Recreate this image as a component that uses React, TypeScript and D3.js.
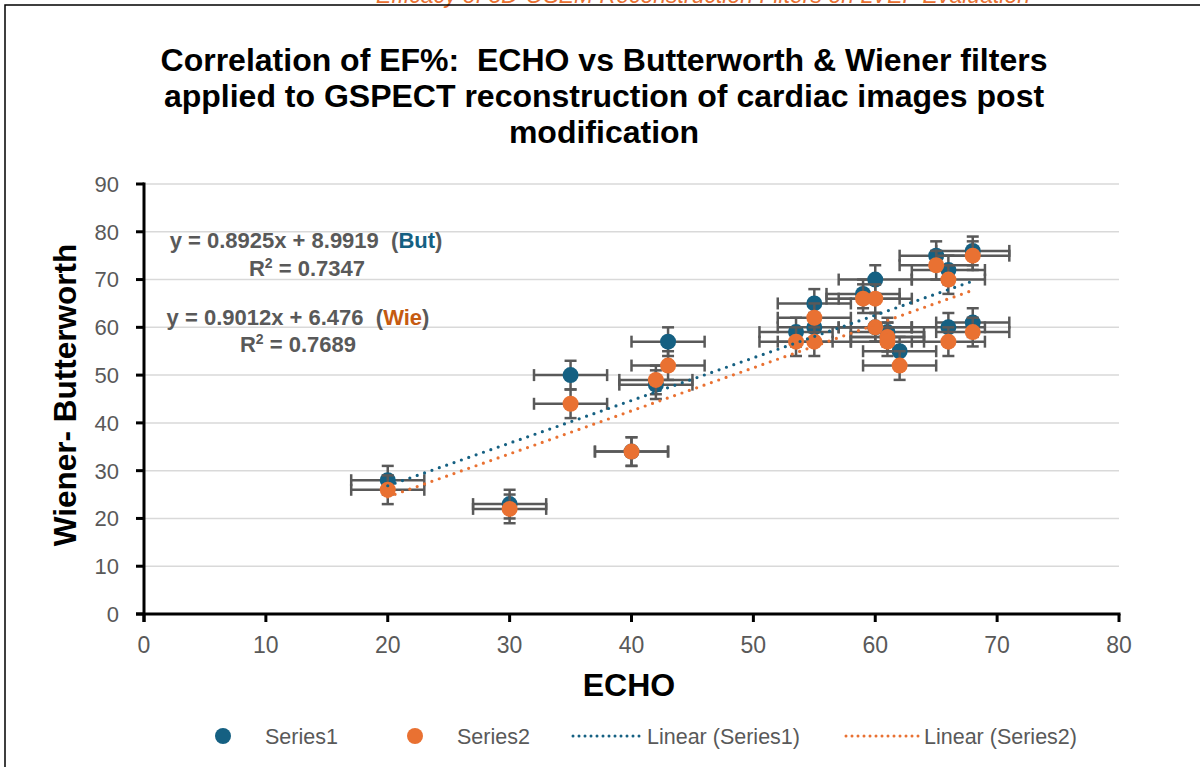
import React from "react";
import { scaleLinear, range } from "d3";

// ECHO values and the two filter results (Butterworth = Series1, Wiener = Series2)
const echo = [20, 30, 35, 40, 42, 43, 53.5, 55, 55, 59, 60, 60, 61, 61, 62, 65, 66, 66, 68, 68];
const series1 = [28, 23, 50, 34, 48, 57, 59, 65, 60, 67, 70, 60, 59, 58, 55, 75, 72, 60, 76, 61];
const series2 = [26, 22, 44, 34, 49, 52, 57, 62, 57, 66, 66, 60, 58, 57, 52, 73, 70, 57, 75, 59];
const errX = 3;
const errY = 3;

const seriesNames = ["Series1", "Series2"];
const trendNames = ["Linear (Series1)", "Linear (Series2)"];
const slopes = [0.8925, 0.9012];
const intercepts = [8.9919, 6.476];
const r2 = ["0.7347", "0.7689"];
const tags = ["But", "Wie"];

const xTicks = range(0, 81, 10);
const yTicks = range(0, 91, 10);

const titleLines = [
  "Correlation of EF%:\u00a0 ECHO vs Butterworth & Wiener filters",
  "applied to GSPECT reconstruction of cardiac images post",
  "modification",
];

const colors = ["#156082", "#E97132"];
const tagColors = ["#156082", "#C55A11"];
const gray = "#595959";
const font = "'Liberation Sans', Arial, sans-serif";

export default function App() {
  const width = 1200;
  const height = 767;
  const margin = { left: 144, right: 81, top: 184, bottom: 153 };

  const xScale = scaleLinear().domain([0, 80]).range([margin.left, width - margin.right]);
  const yScale = scaleLinear().domain([0, 90]).range([height - margin.bottom, margin.top]);
  const x0 = xScale(0);
  const y0 = yScale(0);

  const data = [series1, series2];
  const xMin = Math.min(...echo);
  const xMax = Math.max(...echo);

  return (
    <svg
      width={width}
      height={height}
      style={{ position: "absolute", left: 0, top: 0, fontFamily: font }}
    >
      <rect width={width} height={height} fill="white" />
      {/* page header, cut off at the top in the original too */}
      <text x={703} y={3} textAnchor="middle" fontSize={23} fontStyle="italic" fill="#E97132">
        Efficacy of 3D-OSEM Reconstruction Filters on LVEF Evaluation
      </text>
      {/* chart frame */}
      <rect x={5} y={5} width={1300} height={900} fill="none" stroke="#000" strokeWidth={1.5} />

      {titleLines.map((t, i) => (
        <text
          key={t}
          x={604}
          y={71 + i * 36}
          textAnchor="middle"
          fontSize={32}
          fontWeight="bold"
          fill="#000"
        >
          {t}
        </text>
      ))}

      {/* grid */}
      {yTicks.slice(1).map((d) => (
        <line
          key={d}
          x1={x0}
          x2={xScale(80)}
          y1={yScale(d)}
          y2={yScale(d)}
          stroke="#d9d9d9"
          strokeWidth={1.5}
        />
      ))}

      {/* y axis */}
      {yTicks.map((d) => (
        <g key={d} transform={`translate(0,${yScale(d)})`}>
          <line x1={x0 - 8} x2={x0} stroke="#000" strokeWidth={3} />
          <text x={119} dy="0.36em" textAnchor="end" fontSize={22} fill={gray}>
            {d}
          </text>
        </g>
      ))}
      <line x1={x0} x2={x0} y1={yScale(90) - 1.5} y2={y0 + 8} stroke="#000" strokeWidth={3} />

      {/* x axis */}
      {xTicks.map((d) => (
        <g key={d} transform={`translate(${xScale(d)},0)`}>
          <line y1={y0} y2={y0 + 8} stroke="#000" strokeWidth={3} />
          <text y={653} textAnchor="middle" fontSize={23} fill={gray}>
            {d}
          </text>
        </g>
      ))}
      <line x1={x0 - 8} x2={xScale(80) + 1.5} y1={y0} y2={y0} stroke="#000" strokeWidth={3} />

      <text x={629} y={696} textAnchor="middle" fontSize={32} fontWeight="bold">
        ECHO
      </text>
      <text
        transform={`translate(76,395) rotate(-90)`}
        textAnchor="middle"
        fontSize={31.5}
        fontWeight="bold"
      >
        Wiener- Butterworth
      </text>

      {/* error bars and markers */}
      {data.map((vals, s) => (
        <g key={s}>
          {vals.map((v, i) => {
            const cx = xScale(echo[i]);
            const cy = yScale(v);
            const xl = xScale(echo[i] - errX);
            const xr = xScale(echo[i] + errX);
            const yt = yScale(v + errY);
            const yb = yScale(v - errY);
            return (
              <g key={i} stroke={gray} strokeWidth={2.5}>
                <line x1={xl} x2={xr} y1={cy} y2={cy} />
                <line x1={xl} x2={xl} y1={cy - 6} y2={cy + 6} />
                <line x1={xr} x2={xr} y1={cy - 6} y2={cy + 6} />
                <line x1={cx} x2={cx} y1={yt} y2={yb} />
                <line x1={cx - 6} x2={cx + 6} y1={yt} y2={yt} />
                <line x1={cx - 6} x2={cx + 6} y1={yb} y2={yb} />
              </g>
            );
          })}
          {vals.map((v, i) => (
            <circle key={i} cx={xScale(echo[i])} cy={yScale(v)} r={8} fill={colors[s]} />
          ))}
        </g>
      ))}

      {/* trendlines */}
      {slopes.map((m, s) => (
        <line
          key={s}
          x1={xScale(xMin)}
          y1={yScale(m * xMin + intercepts[s])}
          x2={xScale(xMax)}
          y2={yScale(m * xMax + intercepts[s])}
          stroke={colors[s]}
          strokeWidth={3.2}
          strokeLinecap="round"
          strokeDasharray="0 7.8"
        />
      ))}

      {/* equations */}
      {slopes.map((m, s) => (
        <g key={s} fontSize={22} fontWeight="bold" fill={gray} textAnchor="middle">
          <text x={[306, 298][s]} y={[248, 325][s]}>
            {`y = ${m}x + ${intercepts[s]}\u00a0 (`}
            <tspan fill={tagColors[s]}>{tags[s]}</tspan>
            {")"}
          </text>
          <text x={[307, 298][s]} y={[276, 352][s]}>
            R<tspan dy={-8} fontSize={14}>2</tspan>
            <tspan dy={8}>{` = ${r2[s]}`}</tspan>
          </text>
        </g>
      ))}

      {/* legend */}
      <g fontSize={21.5} fill={gray}>
        {seriesNames.map((n, s) => (
          <g key={n} transform={`translate(${[223, 415][s]},736)`}>
            <circle r={8} fill={colors[s]} />
            <text x={42} dy="0.35em">
              {n}
            </text>
          </g>
        ))}
        {trendNames.map((n, s) => (
          <g key={n} transform={`translate(${[573, 846][s]},736)`}>
            <line
              x1={0}
              x2={[69, 73][s]}
              stroke={colors[s]}
              strokeWidth={3}
              strokeLinecap="round"
              strokeDasharray="0 6"
            />
            <text x={[74, 78][s]} dy="0.35em">
              {n}
            </text>
          </g>
        ))}
      </g>
    </svg>
  );
}
